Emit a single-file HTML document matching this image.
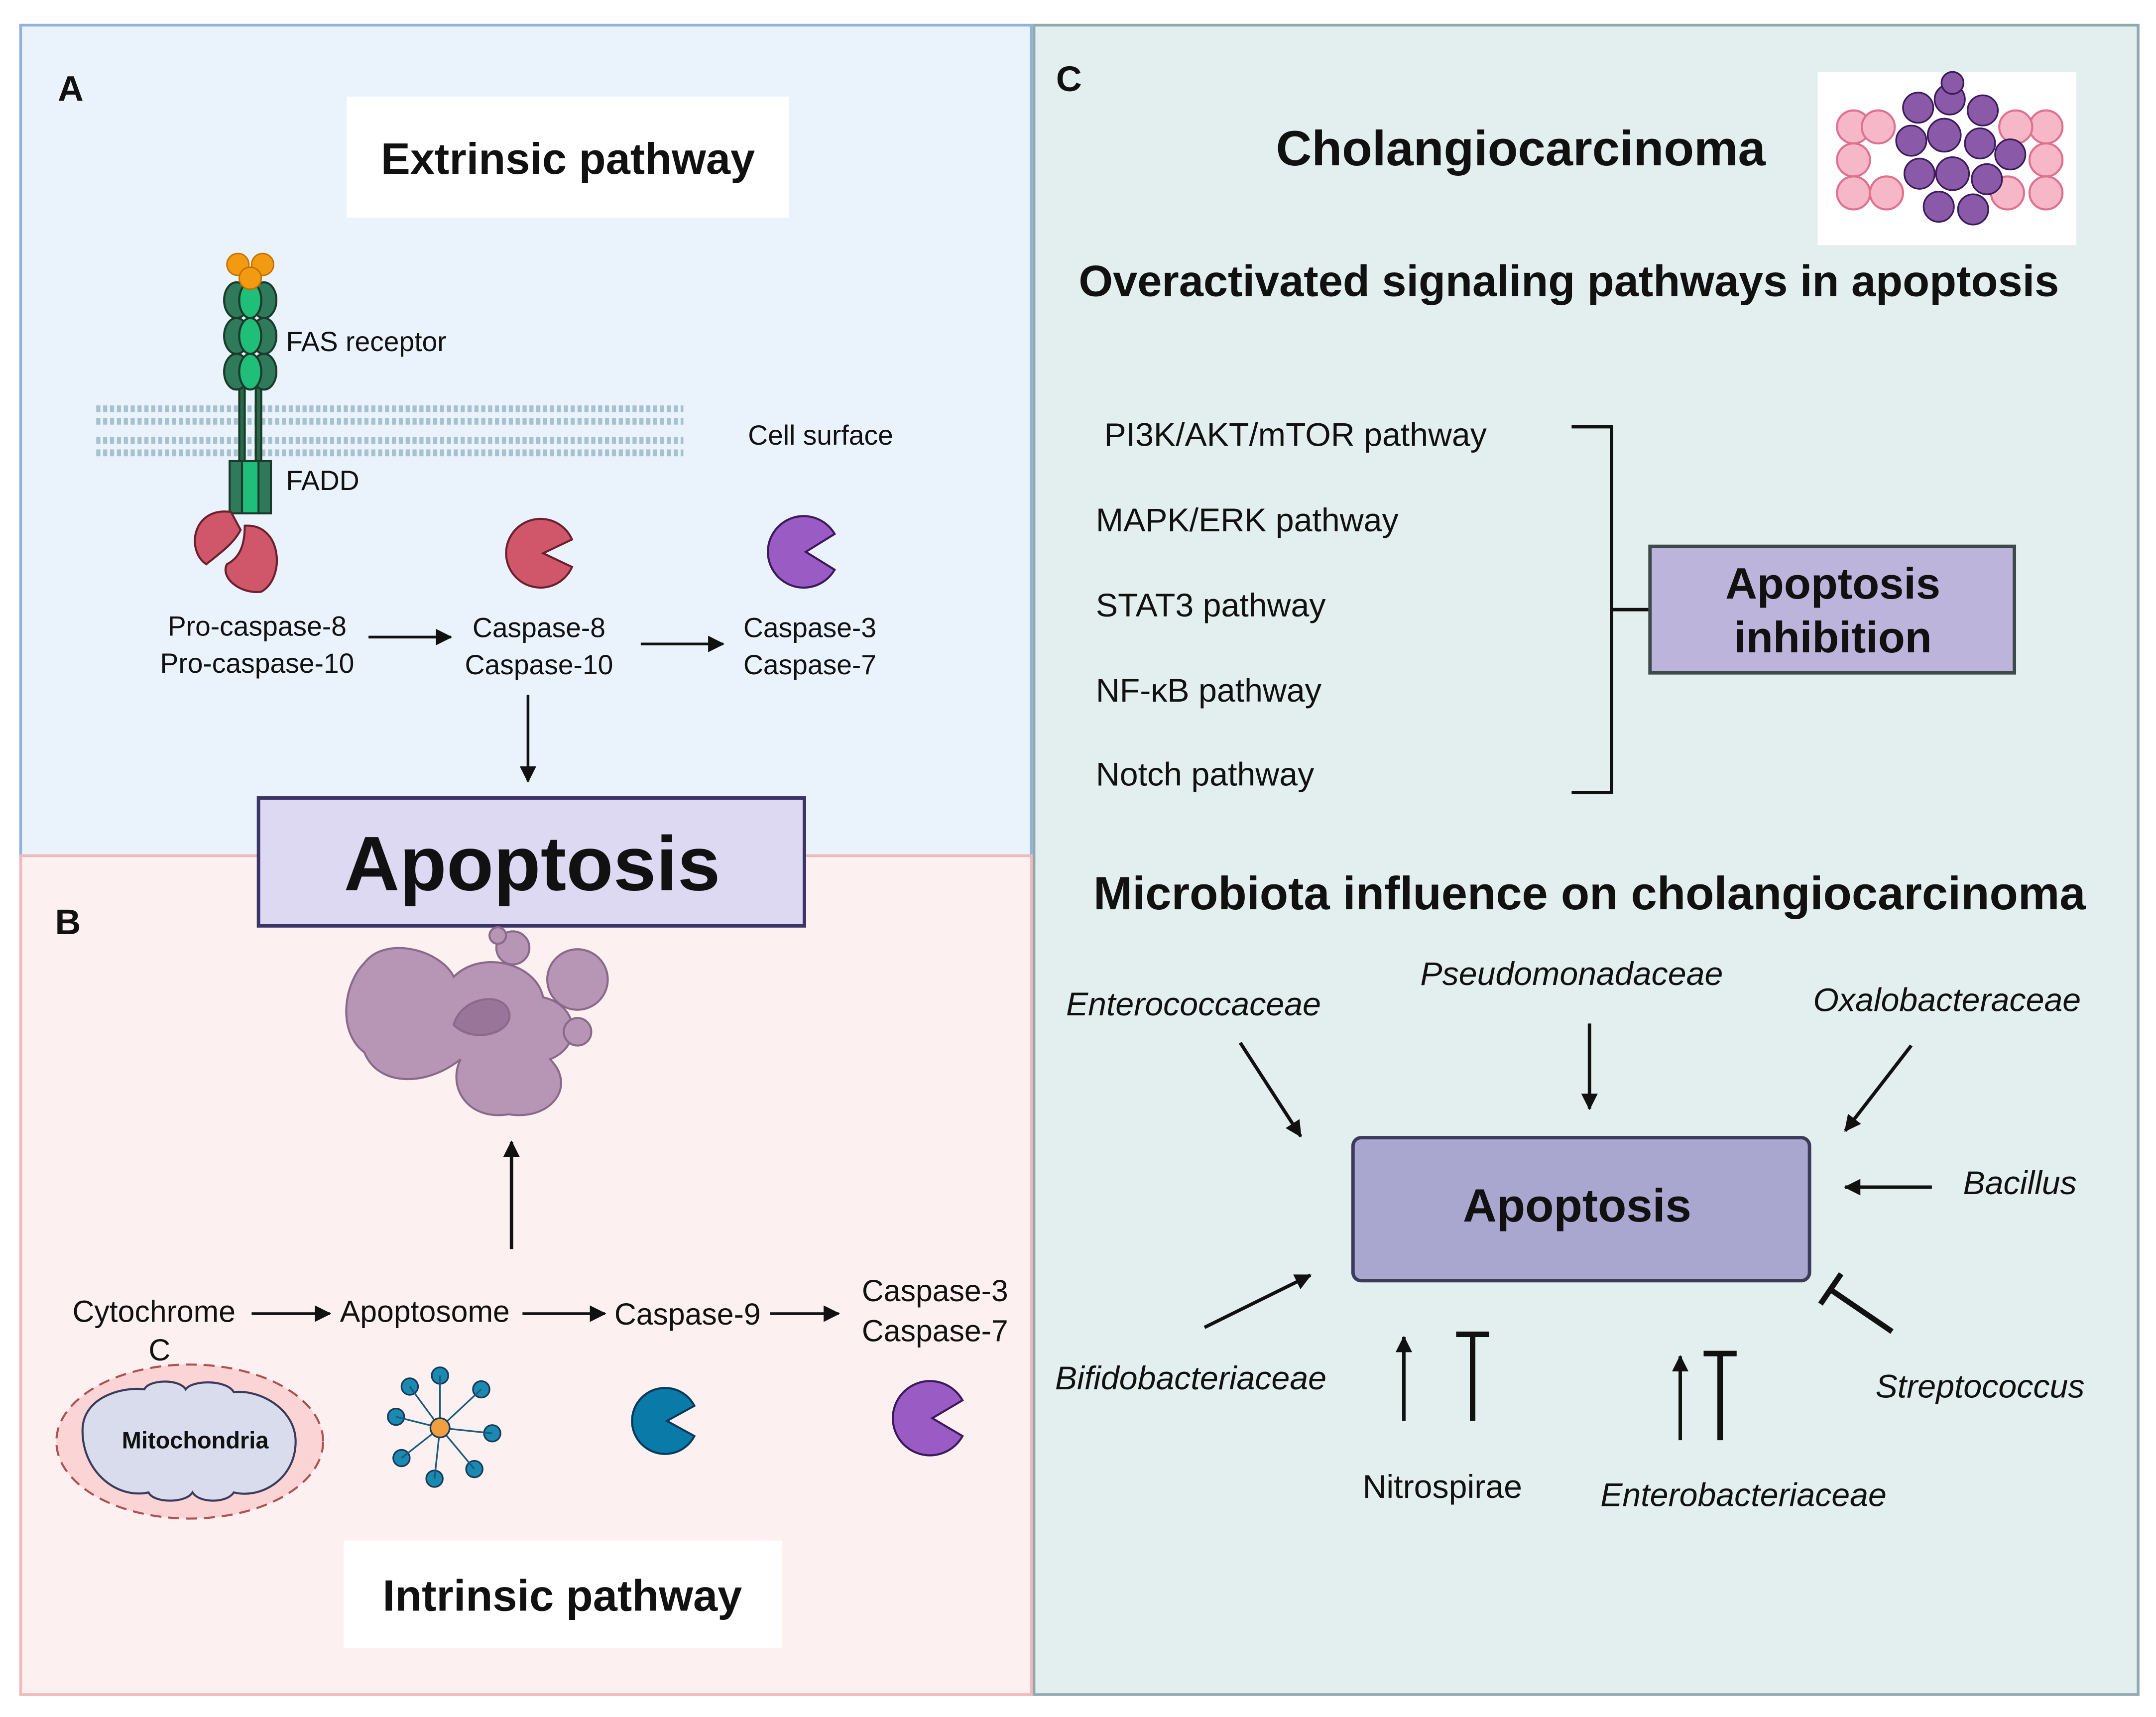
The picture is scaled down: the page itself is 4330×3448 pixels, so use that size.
<!DOCTYPE html>
<html><head><meta charset="utf-8"><style>
html,body{margin:0;padding:0;background:#fff}
svg{display:block}
text{font-family:"Liberation Sans",sans-serif;fill:#111}
.b{font-weight:bold}
.i{font-style:italic}
</style></head><body>
<svg width="4330" height="3448" viewBox="0 0 1568 1248" xmlns="http://www.w3.org/2000/svg">
<defs>
<marker id="ar" markerWidth="8" markerHeight="8" refX="7" refY="4" orient="auto" markerUnits="userSpaceOnUse"><path d="M0,0 L8,4 L0,8 z" fill="#111"/></marker>
<marker id="ar2" markerWidth="12" markerHeight="12" refX="11" refY="6" orient="auto" markerUnits="userSpaceOnUse"><path d="M0,0 L12,6 L0,12 z" fill="#111"/></marker>
</defs>
<rect width="1568" height="1248" fill="#fff"/>
<!-- panels -->
<rect x="15" y="18" width="735" height="604" fill="#eaf3fc" stroke="#93b2da" stroke-width="2"/>
<rect x="15" y="622" width="735" height="610" fill="#fdf0f0" stroke="#f1b9b9" stroke-width="2"/>
<rect x="752" y="18" width="803" height="1214" fill="#e3efee" stroke="#8fa9b0" stroke-width="2"/>
<text x="42" y="73" class="b" font-size="26">A</text>
<text x="40" y="679" class="b" font-size="26">B</text>
<text x="768" y="66" class="b" font-size="26">C</text>

<!-- Panel A -->
<rect x="252" y="70" width="322" height="88" fill="#fff"/>
<text x="413" y="126" class="b" font-size="32" text-anchor="middle">Extrinsic pathway</text>
<g fill="none" stroke="#a6c1cf" stroke-width="5" stroke-dasharray="3 2">
<line x1="70" y1="297" x2="497" y2="297"/><line x1="70" y1="306" x2="497" y2="306"/>
<line x1="70" y1="320" x2="497" y2="320"/><line x1="70" y1="329" x2="497" y2="329"/>
</g>
<g stroke="#1a3a2a" stroke-width="1.5">
<rect x="174" y="270" width="4" height="70" fill="#2a6a4a"/><rect x="186" y="270" width="4" height="70" fill="#2a6a4a"/>
<ellipse cx="172" cy="218" rx="9" ry="13" fill="#2f7a5a"/><ellipse cx="192" cy="218" rx="9" ry="13" fill="#2f7a5a"/><ellipse cx="182" cy="218" rx="8" ry="13" fill="#1fbf7a"/>
<ellipse cx="172" cy="244" rx="9" ry="13" fill="#2f7a5a"/><ellipse cx="192" cy="244" rx="9" ry="13" fill="#2f7a5a"/><ellipse cx="182" cy="244" rx="8" ry="13" fill="#1fbf7a"/>
<ellipse cx="172" cy="270" rx="9" ry="13" fill="#2f7a5a"/><ellipse cx="192" cy="270" rx="9" ry="13" fill="#2f7a5a"/><ellipse cx="182" cy="270" rx="8" ry="13" fill="#1fbf7a"/>
<rect x="167" y="335" width="12" height="38" fill="#2f7a5a"/><rect x="185" y="335" width="12" height="38" fill="#2f7a5a"/><rect x="176" y="335" width="12" height="38" fill="#1fbf7a"/>
</g>
<g fill="#f29a10" stroke="#c46f00"><circle cx="173" cy="192" r="8"/><circle cx="191" cy="192" r="8"/><circle cx="182" cy="202" r="8"/></g>
<text x="208" y="255" font-size="20">FAS receptor</text>
<text x="544" y="323" font-size="20">Cell surface</text>
<text x="208" y="356" font-size="20">FADD</text>
<g fill="#d0566a" stroke="#6a2030" stroke-width="1.5">
<path d="M168,372 C140,368 135,400 150,410 C160 402 170 395 175 385 Z"/>
<path d="M178,382 C205,380 208,420 190,430 C175,432 160,420 165,410 C175 405 178 395 178 382 Z"/>
<path d="M416,392 A25,25 0 1 0 416,412 L395,402 Z"/>
</g>
<path d="M607,388 A26,26 0 1 0 607,414 L586,401 Z" fill="#9a5cc4" stroke="#3a1a5a" stroke-width="1.5"/>
<g font-size="20" text-anchor="middle">
<text x="187" y="462">Pro-caspase-8</text><text x="187" y="489">Pro-caspase-10</text>
<text x="392" y="463">Caspase-8</text><text x="392" y="490">Caspase-10</text>
<text x="589" y="463">Caspase-3</text><text x="589" y="490">Caspase-7</text>
</g>
<g stroke="#111" stroke-width="2" fill="none" marker-end="url(#ar2)">
<line x1="268" y1="463" x2="328" y2="463"/>
<line x1="466" y1="468" x2="526" y2="468"/>
<line x1="384" y1="505" x2="384" y2="568"/>
</g>
<rect x="188" y="580" width="397" height="93" fill="#ddd9f2" stroke="#3b3466" stroke-width="2.5"/>
<text x="387" y="647" class="b" font-size="56" text-anchor="middle">Apoptosis</text>

<!-- Panel B -->
<g fill="#b795b5" stroke="#8a6a8a" stroke-width="1.5">
<path d="M265,700 C280,680 320,690 330,710 C350,690 390,700 395,725 C420,730 425,760 400,770 C420,790 400,815 370,810 C340,815 325,790 335,770 C310,790 275,790 265,765 C245,750 250,715 265,700 Z"/>
<circle cx="373" cy="689" r="12"/><circle cx="420" cy="712" r="22"/><circle cx="362" cy="680" r="6"/><circle cx="420" cy="750" r="10"/>
<path d="M330,745 C335,725 365,720 370,735 C375,750 345,760 330,745 Z" fill="#9a759a"/>
</g>
<line x1="372" y1="908" x2="372" y2="830" stroke="#111" stroke-width="2.5" marker-end="url(#ar2)"/>
<g font-size="22" text-anchor="middle">
<text x="112" y="961">Cytochrome</text><text x="116" y="989">C</text>
<text x="309" y="961">Apoptosome</text>
<text x="500" y="963">Caspase-9</text>
<text x="680" y="946">Caspase-3</text><text x="680" y="975">Caspase-7</text>
</g>
<g stroke="#111" stroke-width="2" fill="none" marker-end="url(#ar2)">
<line x1="183" y1="955" x2="240" y2="955"/>
<line x1="380" y1="955" x2="440" y2="955"/>
<line x1="560" y1="955" x2="610" y2="955"/>
</g>
<ellipse cx="138" cy="1048" rx="97" ry="56" fill="#fbd5d5" stroke="#b05050" stroke-width="1.5" stroke-dasharray="8 5"/>
<path d="M60,1040 C60,1015 90,1008 105,1010 C108,1003 130,1002 135,1010 C140,1003 165,1003 170,1012 C190,1010 215,1025 215,1048 C215,1075 190,1090 170,1085 C165,1093 145,1093 140,1085 C135,1093 112,1093 108,1085 C85,1090 60,1070 60,1040 Z" fill="#d8dcec" stroke="#3a3a5a" stroke-width="1.5"/>
<text x="142" y="1053" class="b" font-size="17" text-anchor="middle">Mitochondria</text>
<g stroke="#1a3a5a" stroke-width="1.2">
<g fill="#1a8ab0">
<circle cx="320" cy="1000" r="6"/><circle cx="350" cy="1010" r="6"/><circle cx="358" cy="1042" r="6"/><circle cx="345" cy="1068" r="6"/><circle cx="316" cy="1075" r="6"/><circle cx="292" cy="1060" r="6"/><circle cx="288" cy="1030" r="6"/><circle cx="298" cy="1008" r="6"/>
</g>
<g stroke="#1a5a7a"><line x1="320" y1="1038" x2="320" y2="1000"/><line x1="320" y1="1038" x2="350" y2="1010"/><line x1="320" y1="1038" x2="358" y2="1042"/><line x1="320" y1="1038" x2="345" y2="1068"/><line x1="320" y1="1038" x2="316" y2="1075"/><line x1="320" y1="1038" x2="292" y2="1060"/><line x1="320" y1="1038" x2="288" y2="1030"/><line x1="320" y1="1038" x2="298" y2="1008"/></g>
<circle cx="320" cy="1038" r="7" fill="#f0a040"/>
</g>
<path d="M505,1022 A24,24 0 1 0 505,1044 L485,1033 Z" fill="#0a7aa8" stroke="#083a5a" stroke-width="1.5"/>
<path d="M700,1018 A27,27 0 1 0 700,1044 L678,1031 Z" fill="#9a5cc4" stroke="#3a1a5a" stroke-width="1.5"/>
<rect x="250" y="1120" width="319" height="78" fill="#fff"/>
<text x="409" y="1171" class="b" font-size="32" text-anchor="middle">Intrinsic pathway</text>

<!-- Panel C -->
<text x="1106" y="120" class="b" font-size="36" text-anchor="middle">Cholangiocarcinoma</text>
<rect x="1322" y="52" width="188" height="126" fill="#fff"/>
<g fill="#f6b8c8" stroke="#e07090" stroke-width="1.5">
<circle cx="1348" cy="92" r="12"/><circle cx="1348" cy="116" r="12"/><circle cx="1348" cy="140" r="12"/><circle cx="1372" cy="140" r="12"/><circle cx="1460" cy="140" r="12"/><circle cx="1488" cy="92" r="12"/><circle cx="1488" cy="116" r="12"/><circle cx="1488" cy="140" r="12"/><circle cx="1466" cy="92" r="12"/><circle cx="1366" cy="92" r="12"/>
</g>
<g fill="#8a5aa8" stroke="#3a1a5a" stroke-width="1.2">
<circle cx="1395" cy="78" r="11"/><circle cx="1418" cy="72" r="11"/><circle cx="1442" cy="80" r="11"/><circle cx="1390" cy="102" r="11"/><circle cx="1414" cy="98" r="12"/><circle cx="1440" cy="104" r="11"/><circle cx="1462" cy="112" r="11"/><circle cx="1396" cy="126" r="11"/><circle cx="1420" cy="126" r="12"/><circle cx="1445" cy="130" r="11"/><circle cx="1410" cy="150" r="11"/><circle cx="1435" cy="152" r="11"/><circle cx="1420" cy="60" r="8"/>
</g>
<text x="1141" y="215" class="b" font-size="32" text-anchor="middle">Overactivated signaling pathways in apoptosis</text>
<g font-size="24">
<text x="803" y="324">PI3K/AKT/mTOR pathway</text>
<text x="797" y="386">MAPK/ERK pathway</text>
<text x="797" y="448">STAT3 pathway</text>
<text x="797" y="510">NF-κB pathway</text>
<text x="797" y="571">Notch pathway</text>
</g>
<path d="M1143,310 H1172 V576 H1143 M1172,443 H1200" fill="none" stroke="#111" stroke-width="2.5"/>
<rect x="1200" y="397" width="265" height="92" fill="#bdb4dc" stroke="#3c4a4a" stroke-width="2.5"/>
<text x="1333" y="435" class="b" font-size="32" text-anchor="middle">Apoptosis</text>
<text x="1333" y="474" class="b" font-size="32" text-anchor="middle">inhibition</text>
<text x="1156" y="661" class="b" font-size="34" text-anchor="middle">Microbiota influence on cholangiocarcinoma</text>
<rect x="984" y="827" width="332" height="104" rx="6" fill="#a9a6cf" stroke="#3c3c5a" stroke-width="2.5"/>
<text x="1147" y="888" class="b" font-size="34" text-anchor="middle">Apoptosis</text>
<g font-size="24">
<text x="868" y="738" class="i" text-anchor="middle">Enterococcaceae</text>
<text x="1143" y="716" class="i" text-anchor="middle">Pseudomonadaceae</text>
<text x="1416" y="735" class="i" text-anchor="middle">Oxalobacteraceae</text>
<text x="1469" y="868" class="i" text-anchor="middle">Bacillus</text>
<text x="1440" y="1016" class="i" text-anchor="middle">Streptococcus</text>
<text x="866" y="1010" class="i" text-anchor="middle">Bifidobacteriaceae</text>
<text x="1049" y="1089" text-anchor="middle">Nitrospirae</text>
<text x="1268" y="1095" class="i" text-anchor="middle">Enterobacteriaceae</text>
</g>
<g stroke="#111" stroke-width="2.5" fill="none" marker-end="url(#ar2)">
<line x1="902" y1="758" x2="946" y2="826"/>
<line x1="1156" y1="744" x2="1156" y2="806"/>
<line x1="1390" y1="760" x2="1342" y2="822"/>
<line x1="1405" y1="863" x2="1342" y2="863"/>
<line x1="876" y1="965" x2="953" y2="927"/>
<line x1="1021" y1="1033" x2="1021" y2="972"/>
<line x1="1222" y1="1047" x2="1222" y2="986"/>
</g>
<g stroke="#111" stroke-width="4" fill="none">
<path d="M1071,1033 V970 M1059,970 H1083"/>
<path d="M1251,1047 V984 M1239,984 H1263"/>
<path d="M1376,968 L1332,938 M1324,948 L1339,926"/>
</g>
</svg>
</body></html>
